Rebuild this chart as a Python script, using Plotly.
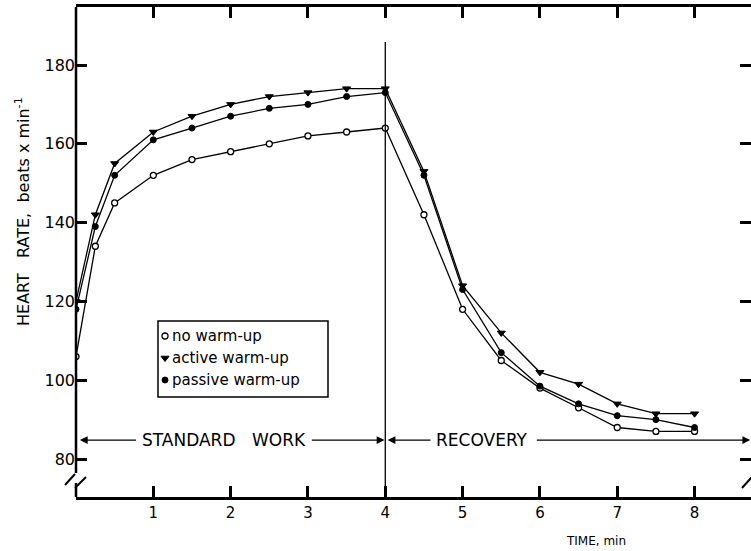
import plotly.graph_objects as go

# Heart rate during standard work and recovery, three warm-up conditions
time_min = [0, 0.25, 0.5, 1, 1.5, 2, 2.5, 3, 3.5, 4, 4.5, 5, 5.5, 6, 6.5, 7, 7.5, 8]
no_warmup = [106, 134, 145, 152, 156, 158, 160, 162, 163, 164, 142, 118, 105, 98, 93, 88, 87, 87]
active_warmup = [120, 142, 155, 163, 167, 170, 172, 173, 174, 174, 153, 124, 112, 102, 99, 94, 91.5, 91.5]
passive_warmup = [118, 139, 152, 161, 164, 167, 169, 170, 172, 173, 152, 123, 107, 98.5, 94, 91, 90, 88]

series_names = ["no warm-up", "active warm-up", "passive warm-up"]
x_ticks = [1, 2, 3, 4, 5, 6, 7, 8]
y_ticks = [80, 100, 120, 140, 160, 180]

X_RANGE = [0, 8.73]
Y_RANGE = [70.36, 194.72]
FONT = "DejaVu Sans"
INK = "black"

marker_styles = [
    dict(symbol="circle", size=6, color="white", line=dict(color=INK, width=1.3)),
    dict(symbol="triangle-down", size=7, color=INK, line=dict(color=INK, width=1)),
    dict(symbol="circle", size=6, color=INK, line=dict(color=INK, width=1)),
]

fig = go.Figure()
for name, values, mk in zip(series_names, [no_warmup, active_warmup, passive_warmup], marker_styles):
    fig.add_trace(go.Scatter(
        x=time_min, y=values, name=name, mode="lines+markers",
        line=dict(color=INK, width=1.3), marker=mk, showlegend=False,
    ))

# legend swatches on an overlay axis spanning the plot area (0..1)
legend_rows_y = [0.3286, 0.2837, 0.2388]
for mk, ry in zip(marker_styles, legend_rows_y):
    fig.add_trace(go.Scatter(
        x=[0.1319], y=[ry], mode="markers", marker=mk, showlegend=False,
        xaxis="x2", yaxis="y2", hoverinfo="skip",
    ))

fig.update_layout(
    width=751, height=551,
    margin=dict(l=76, r=0, t=7, b=54),
    plot_bgcolor="white", paper_bgcolor="white",
    font=dict(family=FONT, color=INK, size=15),
    xaxis=dict(
        range=X_RANGE, tickvals=x_ticks, ticks="inside", ticklen=11, tickwidth=2.5,
        tickcolor=INK, showline=True, linewidth=2.5, linecolor=INK, mirror="ticks",
        showgrid=False, zeroline=False, tickfont=dict(size=15),
    ),
    yaxis=dict(
        range=Y_RANGE, tickvals=y_ticks, ticks="inside", ticklen=11, tickwidth=2.5,
        tickcolor=INK, showline=False, mirror="ticks",
        showgrid=False, zeroline=False, tickfont=dict(size=16),
    ),
    xaxis2=dict(range=[0, 1], overlaying="x", visible=False),
    yaxis2=dict(range=[0, 1], overlaying="y", visible=False),
)

# paper coordinates are relative to the plot area (76..751 px, 7..497 px)
def px(xp):
    return (xp - 76) / 675.0

def py(yp):
    return (497 - yp) / 490.0

line_kw = dict(color=INK, width=2.5)
shapes = [
    # left axis with a break near the bottom
    dict(type="line", xref="paper", yref="paper", x0=0, x1=0, y0=py(473), y1=1, line=line_kw),
    dict(type="line", xref="paper", yref="paper", x0=0, x1=0, y0=0, y1=py(483), line=line_kw),
    dict(type="line", xref="paper", yref="paper", x0=px(65), x1=px(75), y0=py(485), y1=py(474), line=dict(color=INK, width=2)),
    dict(type="line", xref="paper", yref="paper", x0=px(75), x1=px(86), y0=py(488), y1=py(477), line=dict(color=INK, width=2)),
    dict(type="line", xref="paper", yref="paper", x0=px(742), x1=px(752), y0=py(488), y1=py(477), line=dict(color=INK, width=2)),
    # boundary between work and recovery
    dict(type="line", xref="x", yref="paper", x0=4, x1=4, y0=0, y1=py(42), line=dict(color=INK, width=1.3)),
    # legend box
    dict(type="rect", xref="paper", yref="paper", x0=px(158), x1=px(328), y0=py(397), y1=py(321),
         line=dict(color=INK, width=1.5), fillcolor="rgba(0,0,0,0)"),
]
fig.update_layout(shapes=shapes)

annotations = []
for name, ry in zip(series_names, legend_rows_y):
    annotations.append(dict(xref="paper", yref="paper", x=px(170), y=ry, text=name, showarrow=False,
                            xanchor="left", yanchor="middle", font=dict(size=15)))

# phase labels with arrows running out from each label
phase_y = 84.8
arrow_kw = dict(showarrow=True, arrowhead=2, arrowsize=1.2, arrowwidth=1.3, arrowcolor=INK,
                xref="x", yref="y", axref="x", ayref="y", font=dict(size=17), startstandoff=4)
annotations += [
    dict(text="STANDARD", ax=1.455, ay=phase_y, x=0.05, y=phase_y, **arrow_kw),
    dict(text="WORK", ax=2.63, ay=phase_y, x=3.99, y=phase_y, **arrow_kw),
    dict(text="RECOVERY", ax=5.25, ay=phase_y, x=4.03, y=phase_y, **arrow_kw),
    dict(text="", ax=5.94, ay=phase_y, x=8.72, y=phase_y,
         **{k: v for k, v in arrow_kw.items() if k not in ("font", "startstandoff")}),
]

annotations.append(dict(xref="paper", yref="paper", x=px(596), y=py(541), text="TIME, min",
                        showarrow=False, xanchor="center", yanchor="middle", font=dict(size=12)))
annotations.append(dict(xref="paper", yref="paper", x=px(22), y=py(212),
                        text="HEART&nbsp;&nbsp;&nbsp;RATE,&nbsp;&nbsp;beats x min<sup>-1</sup>",
                        showarrow=False, textangle=-90, xanchor="center", yanchor="middle",
                        font=dict(size=16)))
fig.update_layout(annotations=annotations)

fig.write_html("out.html")
